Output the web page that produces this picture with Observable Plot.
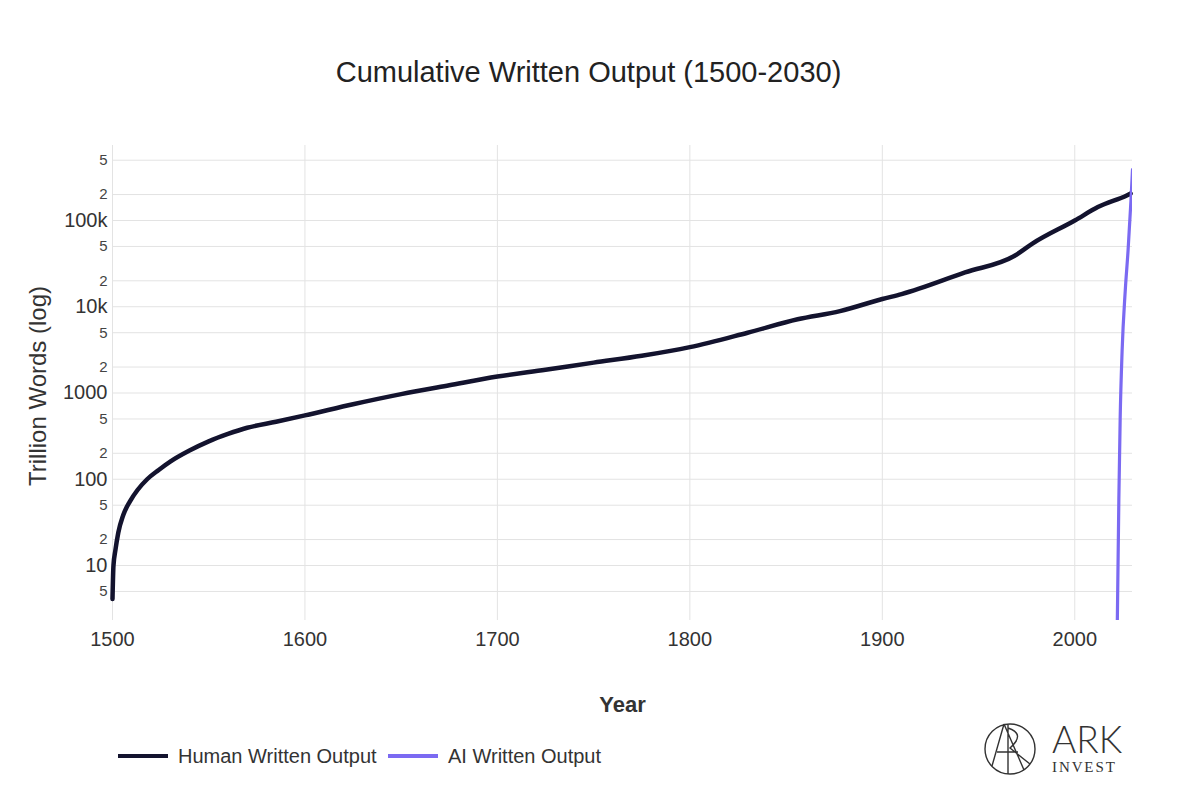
<!DOCTYPE html>
<html><head><meta charset="utf-8">
<script src="https://cdn.jsdelivr.net/npm/d3@7"></script>
<script src="https://cdn.jsdelivr.net/npm/@observablehq/plot@0.6"></script>
<style>
body{margin:0;background:#fff;font-family:"Liberation Sans",Arial,sans-serif;color:#2b2b2b}
#wrap{position:relative;width:1177px;height:797px;overflow:hidden;background:#fff}
#title{position:absolute;top:55px;left:0;width:1177px;text-align:center;font-size:29px;line-height:34px;color:#222}
#chart{position:absolute;top:110px;left:0}
.leg{position:absolute;top:742px;height:28px;display:flex;align-items:center;font-size:20px;color:#333}
.sw{display:inline-block;height:4px;margin-right:10px}
#logo{position:absolute;left:980px;top:716px}
</style></head>
<body>
<div id="wrap">
  <div id="title">Cumulative Written Output (1500-2030)</div>
  <div id="chart"></div>
  <div class="leg" style="left:118px"><span class="sw" style="width:50px;background:#13132e"></span>Human Written Output</div>
  <div class="leg" style="left:388px"><span class="sw" style="width:50px;background:#7b6af2"></span>AI Written Output</div>
  <svg id="logo" width="160" height="70" viewBox="0 0 160 70">
    <g fill="none" stroke="#333" stroke-width="1.4">
      <circle cx="30" cy="33" r="25"/>
      <path d="M24 8 L12 50 M24 8 L44 54 M28 9 L28 58 M28 12 Q46 18 30 32 L50 48 M17 36 L38 36"/>
    </g>
    <text x="72" y="37" font-family="Lato, 'Open Sans', sans-serif" font-weight="300" font-size="37" fill="#333">ARK</text>
    <text x="72" y="56" font-family="'Liberation Serif', 'DejaVu Serif', serif" font-size="15" letter-spacing="1.9" fill="#333">INVEST</text>
  </svg>
</div>
<script>
const humanYears  = [1500,1500.5,1501.5,1503,1505.5,1509,1513,1518,1524,1530,1540,1550,1560,1570,1585,1600,1625,1650,1675,1700,1725,1750,1775,1800,1830,1856,1878,1900,1910,1943,1969,1978,2000,2012,2027,2029];
const humanValues = [4.1,10,15,24,38,55,75,100,128,160,215,275,335,395,465,550,740,970,1230,1550,1860,2250,2700,3400,5000,7150,8900,12300,14000,25000,39300,54000,100000,143000,195000,205000];
const aiYears  = [2022.1,2022.9,2023.6,2024.6,2026.2,2027.7,2029.2,2030];
const aiValues = [2.1,57,510,3070,15000,45000,170000,390000];
const xTicks = [1500,1600,1700,1800,1900,2000];
const yMajor = [10,100,1000,10000,100000];
const yMinor = [5,20,50,200,500,2000,5000,20000,50000,200000,500000];

const human = humanYears.map((y,i)=>({year:y,value:humanValues[i]}));
const ai = aiYears.map((y,i)=>({year:y,value:aiValues[i]}));
const fmtMajor = d => d >= 10000 ? (d/1000) + "k" : String(d);
const fmtMinor = d => String(d).charAt(0);

const chart = Plot.plot({
  width:1177, height:620,
  marginLeft:112, marginRight:45, marginTop:35, marginBottom:110,
  style:{fontFamily:"Liberation Sans, Arial, sans-serif", color:"#444", background:"white", overflow:"visible"},
  x:{domain:[1500,2030]},
  y:{type:"log", domain:[2.303,740500]},
  marks:[
    Plot.gridX(xTicks,{stroke:"#e3e3e3", strokeOpacity:1}),
    Plot.gridY(yMajor.concat(yMinor),{stroke:"#e3e3e3", strokeOpacity:1}),
    Plot.axisX(xTicks,{tickSize:0, tickPadding:11, fontSize:20, tickFormat:d=>String(d), label:null, color:"#333"}),
    Plot.axisY(yMajor,{tickSize:0, tickPadding:5, fontSize:20, tickFormat:fmtMajor, label:null, color:"#333"}),
    Plot.text(yMinor,{y:d=>d, frameAnchor:"left", textAnchor:"end", dx:-5, text:fmtMinor, fontSize:15, fill:"#444"}),
    Plot.line(human,{x:"year", y:"value", stroke:"#13132e", strokeWidth:4.5, curve:"monotone-x"}),
    Plot.line(ai,{x:"year", y:"value", stroke:"#7b6af2", strokeWidth:3.2, clip:true, curve:"monotone-x"}),
    Plot.text(["Year"],{frameAnchor:"bottom", dy:91, fontSize:22, fontWeight:"bold", fill:"#333"}),
    Plot.text(["Trillion Words (log)"],{frameAnchor:"left", textAnchor:"middle", dx:-74, dy:3, rotate:-90, fontSize:24, fill:"#333"})
  ]
});
document.getElementById("chart").appendChild(chart);
</script>
</body></html>
